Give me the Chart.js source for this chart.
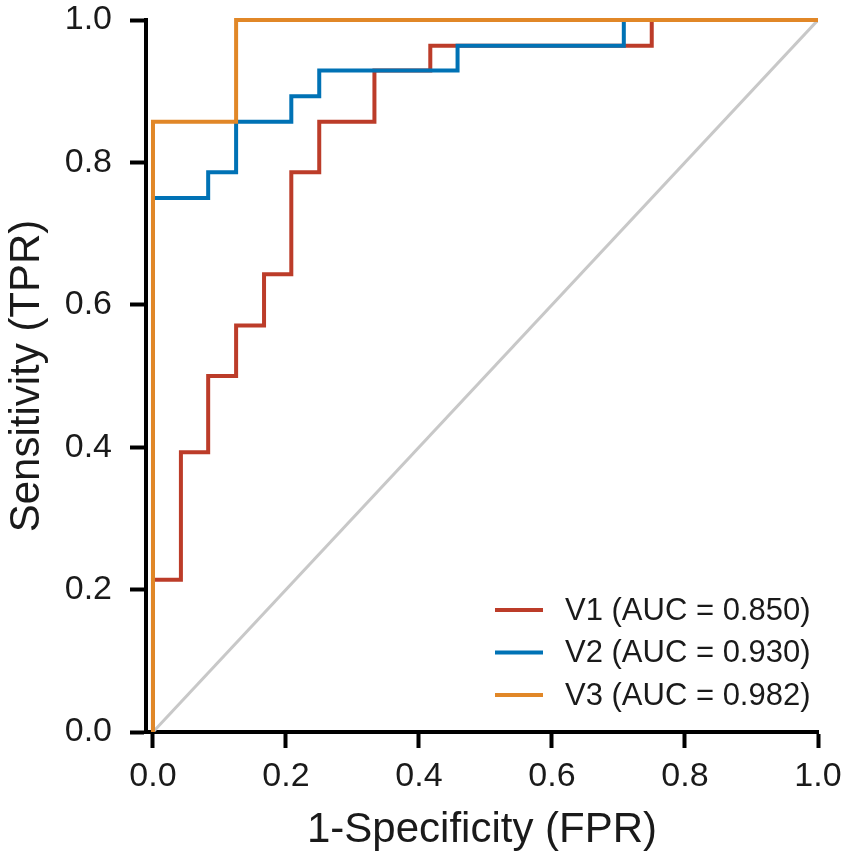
<!DOCTYPE html>
<html>
<head>
<meta charset="utf-8">
<title>ROC curves</title>
<script src="https://cdn.jsdelivr.net/npm/chart.js@4/dist/chart.umd.min.js"></script>
<style>
  html, body { margin: 0; padding: 0; background: #fff; }
  #wrap { width: 851px; height: 860px; position: relative; }
</style>
</head>
<body>
<div id="wrap"><canvas id="rocChart"></canvas></div>
<script>
// ROC corner points (FPR on x, TPR on y)
const seriesNames = ["V1", "V2", "V3"];
const aucValues = [0.850, 0.930, 0.982];
const seriesColors = ["#BC3C29", "#0072B5", "#E18727"];

const v1Fpr = [0, 0, 0.042, 0.042, 0.083, 0.083, 0.125, 0.125, 0.167, 0.167, 0.208, 0.208, 0.25, 0.25, 0.333, 0.333, 0.417, 0.417, 0.75, 0.75, 1];
const v1Tpr = [0, 0.214, 0.214, 0.393, 0.393, 0.5, 0.5, 0.571, 0.571, 0.643, 0.643, 0.786, 0.786, 0.857, 0.857, 0.929, 0.929, 0.964, 0.964, 1, 1];

const v2Fpr = [0, 0, 0.083, 0.083, 0.125, 0.125, 0.208, 0.208, 0.25, 0.25, 0.458, 0.458, 0.708, 0.708, 1];
const v2Tpr = [0, 0.75, 0.75, 0.786, 0.786, 0.857, 0.857, 0.893, 0.893, 0.929, 0.929, 0.964, 0.964, 1, 1];

const v3Fpr = [0, 0, 0.125, 0.125, 1];
const v3Tpr = [0, 0.857, 0.857, 1, 1];

const refFpr = [0, 1];
const refTpr = [0, 1];

const axisTicks = [0, 0.2, 0.4, 0.6, 0.8, 1.0];

const FONT = "'Liberation Sans', Arial, Helvetica, sans-serif";
const TEXT = "#1a1a1a";

function toPoints(xs, ys) {
    return xs.map((x, i) => ({ x: x, y: ys[i] }));
}

const rocSets = [[v1Fpr, v1Tpr], [v2Fpr, v2Tpr], [v3Fpr, v3Tpr]];

const datasets = rocSets.map((s, i) => ({
    label: `${seriesNames[i]} (AUC = ${aucValues[i].toFixed(3)})`,
    data: toPoints(s[0], s[1]),
    borderColor: seriesColors[i],
    borderWidth: 4,
    pointRadius: 0,
    fill: false,
    tension: 0,
    clip: false,
    order: 2 - i   // V3 on top
}));

// chance line
datasets.push({
    label: "ref",
    data: toPoints(refFpr, refTpr),
    borderColor: "#c8c8c8",
    borderWidth: 3,
    pointRadius: 0,
    fill: false,
    order: 10,
    isRef: true
});

// legend drawn inside the plot, bottom right
const insideLegend = {
    id: "insideLegend",
    afterDatasetsDraw(chart) {
        const ctx = chart.ctx;
        const items = chart.data.datasets.filter(d => !d.isRef);
        ctx.save();
        ctx.font = "31px " + FONT;
        ctx.textBaseline = "middle";
        ctx.textAlign = "left";
        items.forEach((d, i) => {
            const y = 610 + i * 42.5;
            ctx.strokeStyle = d.borderColor;
            ctx.lineWidth = 4;
            ctx.beginPath();
            ctx.moveTo(495, y);
            ctx.lineTo(543, y);
            ctx.stroke();
            ctx.fillStyle = TEXT;
            ctx.fillText(d.label, 565, y + 1);
        });
        ctx.restore();
    }
};

function setTicks(scale) {
    scale.ticks = axisTicks.map(v => ({ value: v }));
}

new Chart(document.getElementById("rocChart").getContext("2d"), {
    type: "line",
    data: { datasets: datasets },
    plugins: [insideLegend],
    options: {
        responsive: true,
        maintainAspectRatio: false,
        animation: false,
        layout: { padding: { top: 20, right: 33, left: 0, bottom: 0 } },
        plugins: {
            legend: { display: false },
            tooltip: { enabled: false }
        },
        scales: {
            x: {
                type: "linear",
                min: -0.0105,
                max: 1,
                afterBuildTicks: setTicks,
                afterFit: (scale) => {
                    scale.height = 128;
                    scale.paddingLeft = 0;
                    scale.paddingRight = 0;
                },
                border: { display: true, color: "#000", width: 4 },
                grid: {
                    drawOnChartArea: false,
                    drawTicks: true,
                    tickLength: 16,
                    tickWidth: 4,
                    tickColor: "#000"
                },
                ticks: {
                    color: TEXT,
                    font: { family: FONT, size: 34 },
                    padding: 8,
                    maxRotation: 0,
                    callback: (v) => Number(v).toFixed(1)
                },
                title: {
                    display: true,
                    text: "1-Specificity (FPR)",
                    color: TEXT,
                    font: { family: FONT, size: 42 },
                    padding: { top: 0, bottom: 4 }
                }
            },
            y: {
                type: "linear",
                min: 0,
                max: 1,
                afterBuildTicks: setTicks,
                afterFit: (scale) => {
                    scale.width = 146;
                    scale.paddingTop = 0;
                    scale.paddingBottom = 0;
                },
                border: { display: true, color: "#000", width: 4 },
                grid: {
                    drawOnChartArea: false,
                    drawTicks: true,
                    tickLength: 16,
                    tickWidth: 4,
                    tickColor: "#000"
                },
                ticks: {
                    color: TEXT,
                    font: { family: FONT, size: 34 },
                    padding: 18,
                    callback: (v) => Number(v).toFixed(1)
                },
                title: {
                    display: true,
                    text: "Sensitivity (TPR)",
                    color: TEXT,
                    font: { family: FONT, size: 42 },
                    padding: { top: 2, bottom: 0 }
                }
            }
        }
    }
});
</script>
</body>
</html>
